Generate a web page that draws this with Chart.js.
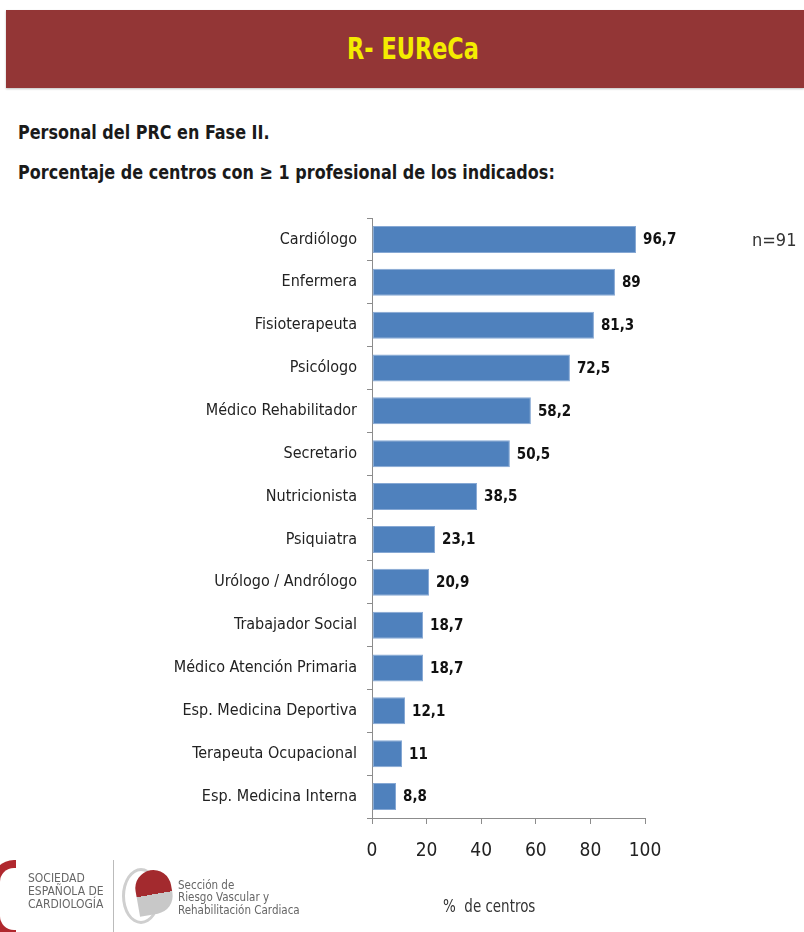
<!DOCTYPE html>
<html>
<head>
<meta charset="utf-8">
<script src="https://cdn.jsdelivr.net/npm/chart.js@4/dist/chart.umd.min.js"></script>
<style>
  html, body { margin: 0; padding: 0; background: #fff; }
  body { width: 804px; height: 932px; position: relative; overflow: hidden;
         font-family: "DejaVu Sans Condensed", "Liberation Sans", sans-serif; color: #1a1a1a; }
  #cabecera { position: absolute; left: 6px; top: 10px; width: 798px; height: 78px;
              background: #933636; box-shadow: 0 1px 2px rgba(0,0,0,0.25); }
  #cabecera span { position: absolute; left: 407px; top: 21px; white-space: nowrap;
                   transform: translateX(-50%) scaleX(0.83);
                   color: #f4ec00; font-weight: bold; font-size: 30px; }
  .subtitulo { position: absolute; left: 18px; font-weight: bold; font-size: 20px; color: #1a1a1a;
               white-space: nowrap; transform: scaleX(0.89); transform-origin: left center; }
  #grafica { position: absolute; left: 0; top: 0; }
  #n { position: absolute; left: 752px; top: 229px; font-size: 18px; color: #333; }
  #eje { position: absolute; left: 443px; top: 896px; font-size: 17px; color: #333;
         white-space: nowrap; transform: scaleX(0.88); transform-origin: left center; }
  .logo { position: absolute; color: #666; line-height: 1.08; white-space: nowrap; }
  #sec { left: 28px; top: 872px; font-size: 12px; }
  #srv { left: 178px; top: 879px; font-size: 11.5px; }
  #rayita { position: absolute; left: 113px; top: 860px; width: 1px; height: 72px; background: #bbb; }
  #c { position: absolute; left: -8px; top: 860px; width: 16px; height: 62px;
       border: 8px solid #b0282e; border-right: none; border-radius: 22px 0 0 22px; }
  #corazon { position: absolute; left: 136px; top: 870px; width: 36px; height: 44px;
             background: linear-gradient(#a32a2e 55%, #c8c8c8 55%); border-radius: 18px 18px 18px 0;
             transform: rotate(-10deg); }
  #aro { position: absolute; left: 122px; top: 868px; width: 32px; height: 50px;
         border: 3px solid #cfcfcf; border-radius: 50%; }
</style>
</head>
<body>
<div id="cabecera"><span>R- EUReCa</span></div>
<div class="subtitulo" style="top:120px">Personal del PRC en Fase II.</div>
<div class="subtitulo" style="top:160px">Porcentaje de centros con ≥ 1 profesional de los indicados:</div>
<canvas id="grafica" width="804" height="932"></canvas>
<div id="n">n=91</div>
<div id="eje">%&nbsp; de centros</div>

<div id="c"></div>
<div class="logo" id="sec">SOCIEDAD<br>ESPAÑOLA DE<br>CARDIOLOGÍA</div>
<div id="rayita"></div>
<div id="aro"></div>
<div id="corazon"></div>
<div class="logo" id="srv">Sección de<br>Riesgo Vascular y<br>Rehabilitación Cardiaca</div>

<script>
// Profesionales y porcentaje de centros que cuentan con al menos uno
const profesionales = [
    'Cardiólogo',
    'Enfermera',
    'Fisioterapeuta',
    'Psicólogo',
    'Médico Rehabilitador',
    'Secretario',
    'Nutricionista',
    'Psiquiatra',
    'Urólogo / Andrólogo',
    'Trabajador Social',
    'Médico Atención Primaria',
    'Esp. Medicina Deportiva',
    'Terapeuta Ocupacional',
    'Esp. Medicina Interna'
];
const porcentajes = [96.7, 89, 81.3, 72.5, 58.2, 50.5, 38.5, 23.1, 20.9, 18.7, 18.7, 12.1, 11, 8.8];
const ticksEjeX = [0, 20, 40, 60, 80, 100];

const fuente = '"DejaVu Sans Condensed", "Liberation Sans", sans-serif';

// Escribe el valor al final de cada barra, con coma decimal
const etiquetasValor = {
    id: 'etiquetasValor',
    afterDatasetsDraw(chart) {
        const ctx = chart.ctx;
        const meta = chart.getDatasetMeta(0);
        ctx.save();
        ctx.font = 'bold 15px ' + fuente;
        ctx.fillStyle = '#111';
        ctx.textAlign = 'left';
        ctx.textBaseline = 'middle';
        meta.data.forEach((barra, i) => {
            const texto = String(porcentajes[i]).replace('.', ',');
            ctx.fillText(texto, barra.x + 7, barra.y + 1);
        });
        ctx.restore();
    }
};

new Chart(document.getElementById('grafica'), {
    type: 'bar',
    data: {
        labels: profesionales,
        datasets: [{
            data: porcentajes,
            backgroundColor: '#4f81bd',
            borderColor: '#86a8d4',
            borderWidth: 1,
            borderSkipped: false,
            barPercentage: 0.7,
            categoryPercentage: 0.9,
        }],
    },
    options: {
        indexAxis: 'y',
        responsive: false,
        animation: false,
        devicePixelRatio: 1,
        layout: { padding: { left: 0, right: 159, top: 218, bottom: 64 } },
        plugins: {
            legend: { display: false },
            tooltip: { enabled: false },
        },
        scales: {
            x: {
                min: 0,
                max: 100,
                afterBuildTicks: (scale) => { scale.ticks = ticksEjeX.map(v => ({ value: v })); },
                afterFit: (scale) => { scale.height = 50; },
                grid: { drawOnChartArea: false, tickLength: 6, color: '#8c8c8c' },
                border: { color: '#8c8c8c' },
                ticks: { color: '#222', font: { family: fuente, size: 19 }, padding: 16 },
            },
            y: {
                afterFit: (scale) => { scale.width = 372; },
                grid: { drawOnChartArea: false, tickLength: 5, color: '#8c8c8c', offset: true },
                border: { color: '#8c8c8c' },
                ticks: { color: '#222', font: { family: fuente, size: 16 }, padding: 10, autoSkip: false },
            },
        },
    },
    plugins: [etiquetasValor],
});
</script>
</body>
</html>
